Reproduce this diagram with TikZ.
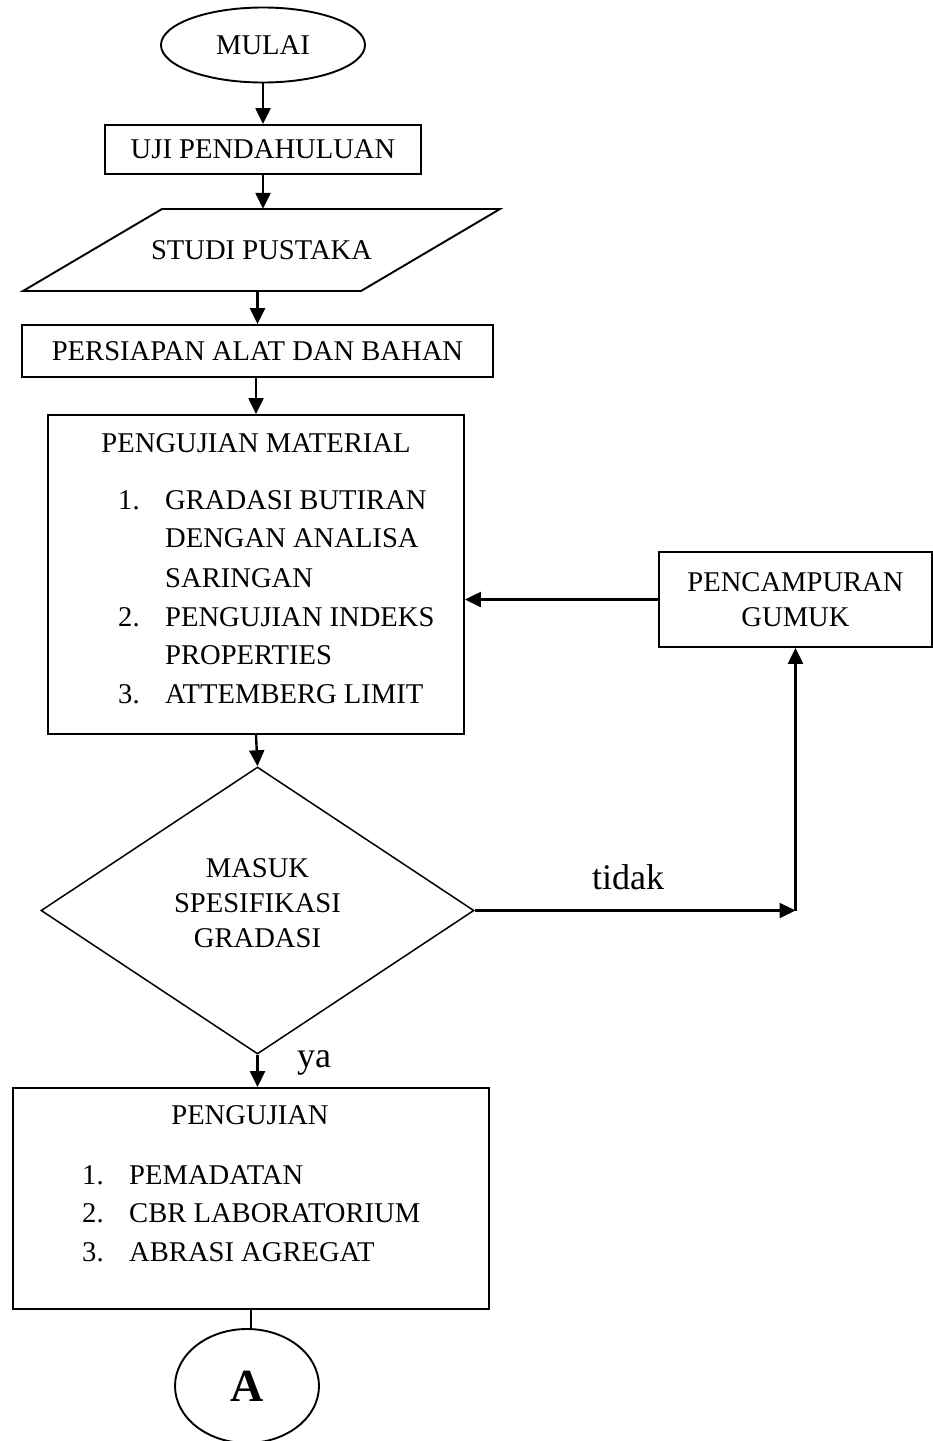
\documentclass[tikz,border=0pt]{standalone}
\usepackage{fontspec}
\setmainfont{Liberation Serif}
\usetikzlibrary{shapes.geometric,arrows.meta}
\begin{document}
\begin{tikzpicture}[x=1pt,y=-1pt,
  box/.style={draw,line width=1.9pt,inner sep=0pt},
  txt/.style={font=\fontsize{28.6}{35}\selectfont,inner sep=0pt},
  item/.style={txt,anchor=west},
  arr/.style={line width=2.4pt,-{Triangle[length=16pt,width=15pt]}},
  plain/.style={line width=2.4pt},
  lbl/.style={font=\fontsize{36}{40}\selectfont,inner sep=0pt}]
\clip (0,0) rectangle (933,1441);
% nodes
\node[box,txt,ellipse,minimum width=204pt,minimum height=75pt] (mulai) at (263,45) {MULAI};
\node[box,txt,minimum width=316pt,minimum height=49pt] (uji) at (263,149.5) {UJI PENDAHULUAN};
\node[txt,minimum width=338pt,minimum height=82pt] (sp) at (261.5,250) {STUDI PUSTAKA};
\draw[line width=1.9pt] (162,209) -- (500,209) -- (361,291) -- (23,291) -- cycle;
\node[box,txt,minimum width=471pt,minimum height=52pt] (pers) at (257.5,351) {PERSIAPAN ALAT DAN BAHAN};
\node[box,minimum width=416pt,minimum height=319pt] (pm) at (256,574.5) {};
\node[txt] (pmt) at (256,443) {PENGUJIAN MATERIAL};
\node[item] (pm1n) at (118,500) {1.};
\node[item] (pm1a) at (165,500) {GRADASI BUTIRAN};
\node[item] (pm1b) at (165,538) {DENGAN ANALISA};
\node[item] (pm1c) at (165,578) {SARINGAN};
\node[item] (pm2n) at (118,617) {2.};
\node[item] (pm2a) at (165,617) {PENGUJIAN INDEKS};
\node[item] (pm2b) at (165,655) {PROPERTIES};
\node[item] (pm3n) at (118,694) {3.};
\node[item] (pm3a) at (165,694) {ATTEMBERG LIMIT};
\node[box,txt,align=center,minimum width=273pt,minimum height=95pt] (pc) at (795.5,599.5) {PENCAMPURAN\\GUMUK};
\node[draw,line width=1.5pt,diamond,shape aspect=1.5,inner sep=0pt,minimum width=433pt,minimum height=287pt] (d) at (257.5,910.5) {};
\node[txt,align=center] (dt) at (257.5,903) {MASUK\\SPESIFIKASI\\GRADASI};
\node[lbl] (tidak) at (628,877) {tidak};
\node[lbl] (ya) at (314,1063) {ya};
\node[box,minimum width=476pt,minimum height=221pt] (pg) at (251,1198.5) {};
\node[txt] (pgt) at (250,1115) {PENGUJIAN};
\node[item] (pg1n) at (82,1175) {1.};
\node[item] (pg1) at (129,1175) {PEMADATAN};
\node[item] (pg2n) at (82,1213) {2.};
\node[item] (pg2) at (129,1213) {CBR LABORATORIUM};
\node[item] (pg3n) at (82,1252) {3.};
\node[item] (pg3) at (129,1252) {ABRASI AGREGAT};
\node[box,ellipse,minimum width=144pt,minimum height=114pt,font=\fontsize{46}{50}\selectfont\bfseries] (a) at (247,1386) {A};
\coordinate (turn) at (d.east -| pc.south);
% connectors
\draw[arr] (mulai.south) -- (uji.north);
\draw[arr] (uji.south) -- (uji.south |- sp.north);
\draw[arr] (pers.north |- sp.south) -- (pers.north);
\draw[arr] (pm.north |- pers.south) -- (pm.north);
\draw[arr] (pm.south) -- (d.north);
\draw[arr] (d.east) -- (turn);
\draw[arr] (turn) -- (pc.south);
\draw[arr] (pc.west) -- (pc.west -| pm.east);
\draw[arr] (d.south) -- (d.south |- pg.north);
\draw[plain] (pg.south) -- (pg.south |- a.north);
\end{tikzpicture}
\end{document}
